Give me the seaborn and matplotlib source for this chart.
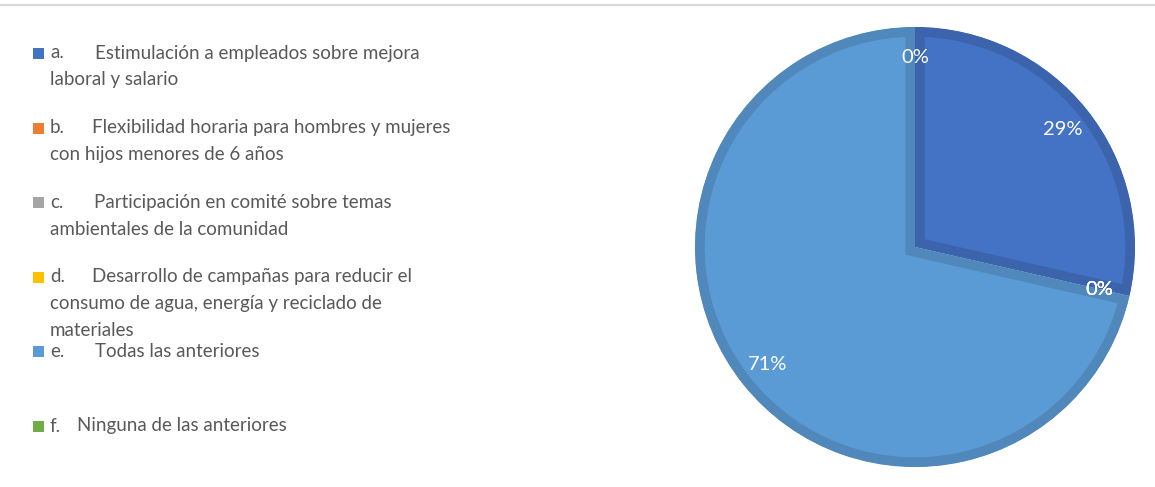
import matplotlib
matplotlib.use("Agg")
import matplotlib.pyplot as plt
import seaborn as sns
from matplotlib.patches import Rectangle
from matplotlib.lines import Line2D
from matplotlib import colors as mcolors

# ---- data ----
prefixes = ["a.", "b.", "c.", "d.", "e.", "f."]
label_lines = [
    ["Estimulación a empleados sobre mejora", "laboral y salario"],
    ["Flexibilidad horaria para hombres y mujeres", "con hijos menores de 6 años"],
    ["Participación en comité sobre temas", "ambientales de la comunidad"],
    ["Desarrollo de campañas para reducir el", "consumo de agua, energía y reciclado de", "materiales"],
    ["Todas las anteriores"],
    ["Ninguna de las anteriores"],
]
counts = [2, 0, 0, 0, 5, 0]
slice_colors = ["#4472C4", "#ED7D31", "#A5A5A5", "#FFC000", "#5B9BD5", "#70AD47"]

sns.set_theme(style="white")
plt.rcParams['font.family'] = ['Lato', 'DejaVu Sans']

W, H = 1155, 487
fig = plt.figure(figsize=(W / 100, H / 100), dpi=100)
fig.patch.set_facecolor("white")

# top border line
fig.add_artist(Line2D([0, 1], [1 - 5 / H, 1 - 5 / H], color="#D9D9D9", lw=1.6,
                      transform=fig.transFigure))

# pie axes
cx, cy, r = 915, 247, 220
ax = fig.add_axes([(cx - r) / W, (H - cy - r) / H, 2 * r / W, 2 * r / H])
wedges, texts, autotexts = ax.pie(
    counts, colors=slice_colors, startangle=90, counterclock=False,
    autopct="%1.0f%%", pctdistance=0.86, radius=1.0,
    textprops=dict(color="white", fontsize=14.5),
)
for w, c, v in zip(wedges, slice_colors, counts):
    rgb = mcolors.to_rgb(c)
    dark = tuple(x * 0.88 for x in rgb)
    w.set_edgecolor(dark)
    w.set_linewidth(14)
    w.set_clip_on(True)
    w.set_clip_path(w)
    if v == 0:
        w.set_visible(False)
ax.set_xlim(-1, 1)
ax.set_ylim(-1, 1)
ax.set_aspect("equal")
ax.axis("off")

# legend (manual, Excel-like fixed slots)
text_color = "#595959"
fs = 13.5
y0 = 53
slot = 74.6
line_h = 27
body_x = [95, 92, 94, 92, 95, 77]
for i, (p, lines, col) in enumerate(zip(prefixes, label_lines, slice_colors)):
    y = y0 + i * slot
    fig.add_artist(Rectangle((33 / W, 1 - (y + 6) / H), 11 / W, 11 / H,
                             facecolor=col, edgecolor="none", transform=fig.transFigure))
    fig.text(50 / W, 1 - y / H, p, color=text_color, fontsize=fs, va="center", ha="left")
    fig.text(body_x[i] / W, 1 - y / H, lines[0], color=text_color, fontsize=fs,
             va="center", ha="left")
    for k, ln in enumerate(lines[1:], start=1):
        fig.text(50 / W, 1 - (y + k * line_h) / H, ln, color=text_color, fontsize=fs,
                 va="center", ha="left")

fig.savefig("out.png", dpi=100, facecolor="white")
